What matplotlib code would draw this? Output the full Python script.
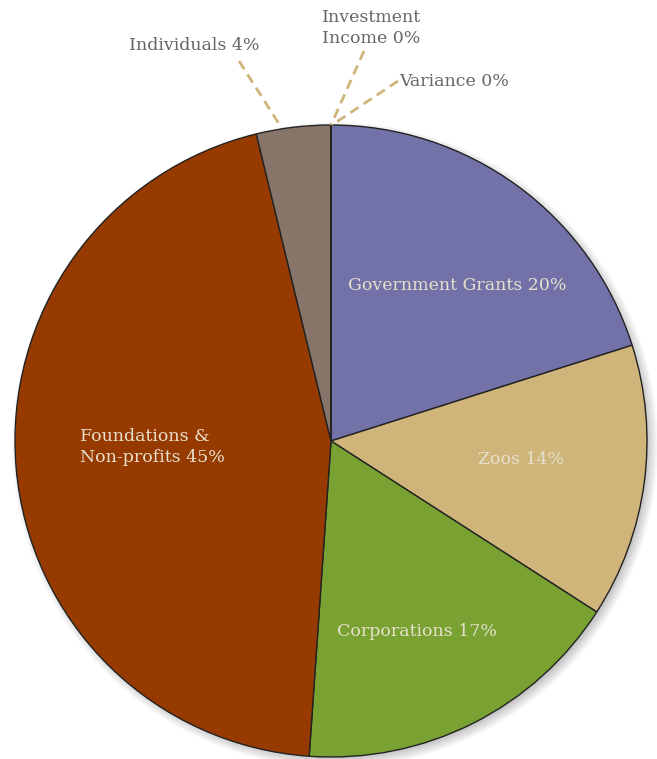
import numpy as np
import matplotlib.pyplot as plt
from matplotlib.patches import Circle

# Funding sources, clockwise from 12 o'clock
sources = ["Government Grants", "Zoos", "Corporations", "Foundations &\nNon-profits",
           "Individuals", "Investment\nIncome", "Variance"]
shares = [20.1, 14.0, 17.0, 45.1, 3.8, 0.0, 0.0]
shown_pct = [20, 14, 17, 45, 4, 0, 0]
colors = ["#7272a8", "#cfb57a", "#7aa232", "#963a00", "#88756a", "#888888", "#888888"]

plt.rcParams['font.family'] = ['DejaVu Serif']

fig = plt.figure(figsize=(6.57, 7.59), dpi=100)
ax = fig.add_axes([0, 0, 1, 1])
ax.set_xlim(0, 657)
ax.set_ylim(0, 759)
ax.set_aspect("equal")
ax.axis("off")

cx, cy, r = 331, 318, 316

# soft drop shadow
for k in range(12):
    ax.add_patch(Circle((cx + 4, cy - 4), r + 7 - k, color="black", alpha=0.02, lw=0, zorder=0))

wedges, _ = ax.pie(shares, colors=colors, startangle=90, counterclock=False,
                   center=(cx, cy), radius=r,
                   wedgeprops=dict(edgecolor="#222222", linewidth=1.0))
ax.set_xlim(0, 657)
ax.set_ylim(0, 759)

inside = dict(color="#e6e0cc", fontsize=12.5, va="center")
ax.text(348, 759 - 286, f"{sources[0]} {shown_pct[0]}%", ha="left", **inside)
ax.text(521, 759 - 460, f"{sources[1]} {shown_pct[1]}%", ha="center", **inside)
ax.text(337, 759 - 632, f"{sources[2]} {shown_pct[2]}%", ha="left", **inside)
ax.text(80, 759 - 447, f"{sources[3]} {shown_pct[3]}%", ha="left", linespacing=1.3, **inside)

outside = dict(color="#666666", fontsize=12.5, va="center")
line = dict(color="#cfb57a", lw=2, ls=(0, (3.5, 2.2)))
top = (cx, cy + r)

ax.plot([239, 281], [759 - 61, 759 - 127], **line)
ax.text(129, 759 - 45, f"{sources[4]} {shown_pct[4]}%", ha="left", **outside)

ax.plot([364, top[0]], [759 - 51, top[1]], **line)
ax.text(322, 759 - 28, f"{sources[5]} {shown_pct[5]}%", ha="left", linespacing=1.25, **outside)

ax.plot([398, top[0] + 1], [759 - 81, top[1]], **line)
ax.text(399, 759 - 81, f"{sources[6]} {shown_pct[6]}%", ha="left", **outside)

fig.savefig("out.png", dpi=100)
